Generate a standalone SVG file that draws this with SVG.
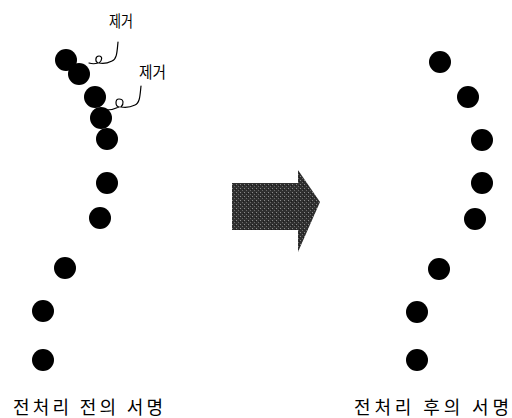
<svg xmlns="http://www.w3.org/2000/svg" width="512" height="418" viewBox="0 0 512 418">
<style>
.dot{fill:#000}
.lead{fill:none;stroke:#000;stroke-width:1.2;stroke-linecap:round}
.lbl{font-family:"Noto Sans CJK KR","Noto Sans",sans-serif;font-size:16px;fill:#000}
.cap{font-family:"Noto Sans CJK KR","Noto Sans",sans-serif;font-size:18px;fill:#000}
</style>
<defs>
<pattern id="dither" width="4" height="4" patternUnits="userSpaceOnUse">
<rect width="4" height="4" fill="#303030"/>
<rect x="0" y="0" width="1" height="1" fill="#8a8a8a"/>
<rect x="2" y="2" width="1" height="1" fill="#6a6a6a"/>
<rect x="3" y="1" width="1" height="1" fill="#1a1a1a"/>
</pattern>
</defs>
<g id="before">
<circle class="dot" cx="66" cy="60" r="11"/>
<circle class="dot" cx="79" cy="74" r="11"/>
<circle class="dot" cx="95" cy="97" r="11"/>
<circle class="dot" cx="101" cy="118" r="11"/>
<circle class="dot" cx="107" cy="139" r="11"/>
<circle class="dot" cx="107" cy="183" r="11"/>
<circle class="dot" cx="100" cy="218" r="11"/>
<circle class="dot" cx="65" cy="268" r="11"/>
<circle class="dot" cx="43" cy="311" r="11"/>
<circle class="dot" cx="43" cy="360" r="11"/>
</g>
<g id="connectors">
<path class="lead" d="M118,42 C117,52 117,59 112,61 C108,63 103,64 99,63 C102,61 103,56 99,56 C95,56 95,62 98,63 C95,64 92,64 89,63"/>
<path class="lead" d="M141,86 C140,95 140,103 135,105 C131,107 126,108 121,107 C124,104 124,99 119,99 C115,99 115,106 119,107 C115,109 110,110 106,110"/>
</g>
<g id="label-remove-1"><text class="lbl" x="109" y="27" textLength="24" lengthAdjust="spacingAndGlyphs">제거</text></g>
<g id="label-remove-2"><text class="lbl" x="139" y="78" textLength="27" lengthAdjust="spacingAndGlyphs">제거</text></g>
<g id="arrow">
<polygon points="232,183 298,183 298,170 320,202 298,252 298,230 232,230" fill="url(#dither)"/>
</g>
<g id="after">
<circle class="dot" cx="440" cy="62" r="11"/>
<circle class="dot" cx="468" cy="97" r="11"/>
<circle class="dot" cx="482" cy="140" r="11"/>
<circle class="dot" cx="482" cy="183" r="11"/>
<circle class="dot" cx="475" cy="219" r="11"/>
<circle class="dot" cx="439" cy="269" r="11"/>
<circle class="dot" cx="417" cy="312" r="11"/>
<circle class="dot" cx="417" cy="360" r="11"/>
</g>
<g id="caption-before"><text class="cap" x="13" y="414" textLength="150">전처리 전의 서명</text></g>
<g id="caption-after"><text class="cap" x="354" y="414" textLength="155">전처리 후의 서명</text></g>
</svg>
